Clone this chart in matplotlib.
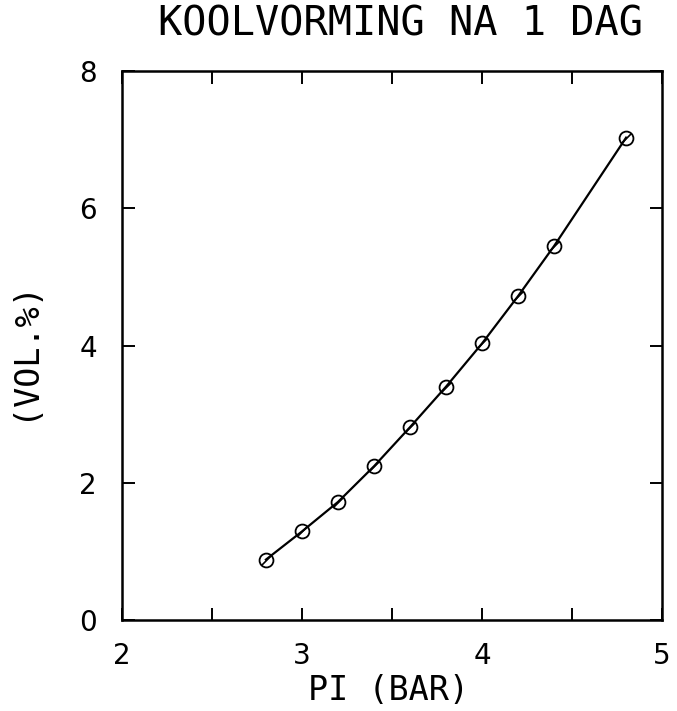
import matplotlib
matplotlib.use('Agg')
import matplotlib.pyplot as plt
from matplotlib.path import Path
from matplotlib.ticker import MultipleLocator

# --- data ---
druk = [2.8, 3.0, 3.2, 3.4, 3.6, 3.8, 4.0, 4.2, 4.4, 4.8]
kool = [0.88, 1.29, 1.72, 2.24, 2.81, 3.40, 4.03, 4.72, 5.45, 7.03]

titel = "KOOLVORMING NA 1 DAG"
x_label = "PI (BAR)"
y_label = "(VOL.%)"

# --- figure ---
fig = plt.figure(figsize=(6.77, 7.11), dpi=100)
ax = fig.add_axes([0.180, 0.128, 0.798, 0.772])

ax.plot(druk, kool, color='black', lw=1.6, marker='o', ms=10,
        mfc='none', mec='black', mew=1.3)
# schuine streep door elk rondje
slash = Path([(-1, -1), (1, 1)], [Path.MOVETO, Path.LINETO])
ax.plot(druk, kool, ls='none', marker=slash, ms=7, mec='black', mew=1.2)

ax.set_xlim(2, 5)
ax.set_ylim(0, 8)
ax.xaxis.set_major_locator(MultipleLocator(1))
ax.xaxis.set_minor_locator(MultipleLocator(0.5))
ax.yaxis.set_major_locator(MultipleLocator(2))

for s in ax.spines.values():
    s.set_linewidth(1.8)

ax.tick_params(which='both', direction='in', top=True, right=True,
               length=9, width=1.4)
ax.tick_params(axis='x', pad=16, labelsize=20)
ax.tick_params(axis='y', pad=18, labelsize=20)

# titels en aslabels
fig.text(400 / 677, 1 - 24 / 711, titel, family='DejaVu Sans Mono',
         fontsize=29, ha='center', va='center')
fig.text(388 / 677, 1 - 690 / 711, x_label, family='DejaVu Sans Mono',
         fontsize=24, ha='center', va='center')
fig.text(24 / 677, 1 - 350 / 711, y_label, family='DejaVu Sans Mono',
         fontsize=24, ha='center', va='center', rotation=90)

fig.savefig('out.png', dpi=100)
